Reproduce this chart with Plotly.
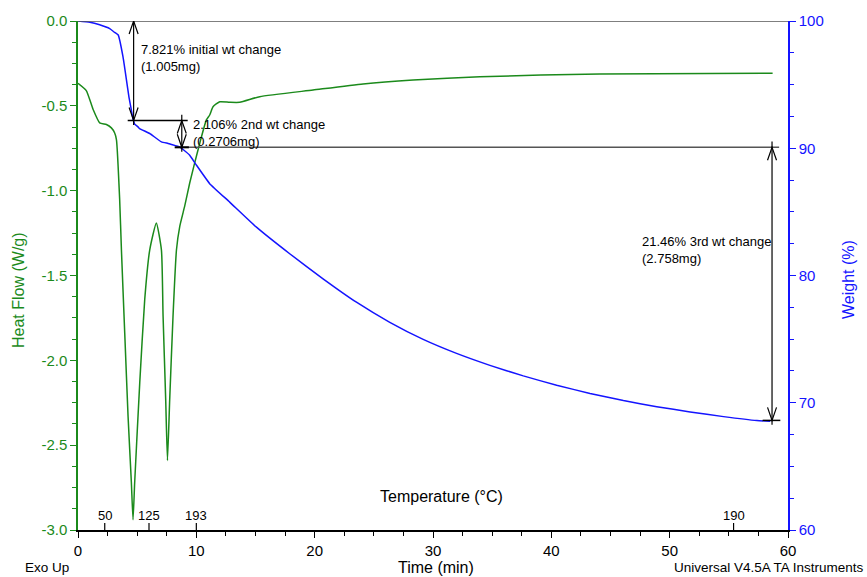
import plotly.graph_objects as go

# ---------------- data ----------------
time_hf = [0, 0.7, 1.27, 1.83, 2.4, 2.82, 3.1, 3.25, 3.52, 3.67, 3.95, 4.23, 4.51, 4.65,
           4.79, 5.22, 5.64, 6.06, 6.62, 7.05, 7.19, 7.41, 7.56, 7.75, 8.03, 8.32, 8.6,
           9.02, 9.44, 10.14, 10.85, 11.13, 11.41, 11.98, 12.82, 13.67, 15.36, 19.86,
           24.09, 28.32, 33.96, 44.1, 58.7]
heat_flow = [-0.367, -0.41, -0.52, -0.60, -0.61, -0.63, -0.66, -0.70, -1.05, -1.35, -1.84,
             -2.33, -2.72, -2.94, -2.72, -2.13, -1.64, -1.35, -1.19, -1.35, -1.74, -2.23,
             -2.59, -2.23, -1.74, -1.35, -1.21, -1.09, -0.955, -0.76, -0.583, -0.554,
             -0.505, -0.476, -0.479, -0.479, -0.446, -0.407, -0.371, -0.348, -0.328,
             -0.312, -0.308]

time_wt = [0, 1.0, 1.83, 2.68, 3.1, 3.4, 3.8, 4.09, 4.31, 4.51, 4.65, 4.79, 5.07, 5.2,
           6.06, 7.05, 7.61, 7.9, 8.6, 8.88, 9.44, 9.95, 11.13, 12.82, 15.08, 17.89,
           20.71, 23.53, 26.35, 29.17, 31.99, 34.81, 37.63, 40.45, 43.27, 46.09, 48.91,
           51.73, 54.55, 57.37, 58.5]
weight = [100, 99.9, 99.7, 99.4, 99.1, 98.9, 97.2, 95.4, 94.0, 93.0, 92.3, 91.9, 91.68,
          91.55, 91.16, 90.5, 90.38, 90.3, 90.1, 89.9, 89.45, 88.75, 87.22, 85.77, 83.80,
          81.71, 79.74, 77.90, 76.32, 74.98, 73.88, 72.94, 72.11, 71.38, 70.73, 70.17,
          69.69, 69.28, 68.91, 68.60, 68.55]

# weight-change steps
step_times = [4.7, 8.77, 58.65]
step_pct = [7.821, 2.106, 21.46]
step_mass = ["1.005mg", "0.2706mg", "2.758mg"]
step_names = ["initial", "2nd", "3rd"]

# temperature markers on time axis
temp_times = [2.26, 6.0, 10.0, 55.4]
temp_labels = ["50", "125", "193", "190"]

x_ticks = [0, 10, 20, 30, 40, 50, 60]
hf_ticks = [0.0, -0.5, -1.0, -1.5, -2.0, -2.5, -3.0]
wt_ticks = [60, 70, 80, 90, 100]

GREEN = "#1b8a1b"
BLUE = "#1414ff"
FONT = "Arial, Liberation Sans, sans-serif"

levels = [100.0]
for p in step_pct:
    levels.append(levels[-1] - p)

fig = go.Figure()
fig.add_trace(go.Scatter(x=time_hf, y=heat_flow, mode="lines", yaxis="y",
                         line=dict(color=GREEN, width=1.5, shape="spline", smoothing=0.5),
                         hoverinfo="skip", showlegend=False))
fig.add_trace(go.Scatter(x=time_wt, y=weight, mode="lines", yaxis="y2",
                         line=dict(color=BLUE, width=1.5, shape="spline", smoothing=0.4),
                         hoverinfo="skip", showlegend=False))

shapes = []
# reference level lines
shapes.append(dict(type="line", xref="x", yref="y2", x0=0, x1=60, y0=levels[0], y1=levels[0],
                   line=dict(color="#555555", width=1.5)))
shapes.append(dict(type="line", xref="x", yref="y2", x0=step_times[0] - 0.5, x1=step_times[1] + 0.5,
                   y0=levels[1], y1=levels[1], line=dict(color="black", width=1.5)))
shapes.append(dict(type="line", xref="x", yref="y2", x0=step_times[1] - 0.5, x1=step_times[2] + 0.6,
                   y0=levels[2], y1=levels[2], line=dict(color="#555555", width=1.5)))
shapes.append(dict(type="line", xref="x", yref="y2", x0=step_times[1] - 0.6, x1=step_times[1] + 0.6,
                   y0=levels[2], y1=levels[2], line=dict(color="black", width=2)))
shapes.append(dict(type="line", xref="x", yref="y2", x0=step_times[2] - 0.8, x1=step_times[2] + 0.7,
                   y0=levels[3], y1=levels[3], line=dict(color="black", width=1.5)))

for i, t in enumerate(step_times):
    top, bot = levels[i], levels[i + 1]
    shapes.append(dict(type="line", xref="x", yref="y2", x0=t, x1=t, y0=top + 0.45, y1=bot - 0.35,
                       line=dict(color="black", width=1.2)))
    shapes.append(dict(type="path", xref="x", yref="y2", xsizemode="pixel", ysizemode="pixel",
                       xanchor=t, yanchor=top, path="M -4.5,-13 L 0,0 L 4.5,-13",
                       line=dict(color="black", width=1.2)))
    shapes.append(dict(type="path", xref="x", yref="y2", xsizemode="pixel", ysizemode="pixel",
                       xanchor=t, yanchor=bot, path="M -4.5,13 L 0,0 L 4.5,13",
                       line=dict(color="black", width=1.2)))

# temperature ticks pointing up from the time axis
for t in temp_times:
    shapes.append(dict(type="line", xref="x", yref="paper", ysizemode="pixel", yanchor=0,
                       x0=t, x1=t, y0=0, y1=7, line=dict(color="black", width=1.2)))

label_pos = [(5.15, 97.1), (9.55, 91.18), (47.5, 81.97)]
annotations = []
for i in range(3):
    pct = f"{step_pct[i]:.3f}%" if step_pct[i] < 10 else f"{step_pct[i]:.2f}%"
    annotations.append(dict(x=label_pos[i][0], y=label_pos[i][1], xref="x", yref="y2",
                            xanchor="left", yanchor="middle", align="left", showarrow=False,
                            text=f"{pct} {step_names[i]} wt change<br>({step_mass[i]})",
                            font=dict(family=FONT, size=13, color="black")))
for t, lab in zip(temp_times, temp_labels):
    annotations.append(dict(x=t, y=0, xref="x", yref="paper", xanchor="center", yanchor="bottom",
                            yshift=5, showarrow=False, text=lab,
                            font=dict(family=FONT, size=13, color="black")))

L, R, T, B = 78, 79, 21, 47
W, H = 867, 577
pw, ph = W - L - R, H - T - B


def px(xp, yp, text, color="black", size=16, xanchor="center", angle=0):
    return dict(x=(xp - L) / pw, y=(H - yp - B) / ph, xref="paper", yref="paper", text=text,
                showarrow=False, xanchor=xanchor, yanchor="middle", textangle=angle,
                font=dict(family=FONT, size=size, color=color))


annotations += [
    px(441, 496, "Temperature (°C)"),
    px(436, 567, "Time (min)"),
    px(23, 567, "Exo Up", size=13.5, xanchor="left"),
    px(866, 567, "Universal V4.5A TA Instruments", size=13.5, xanchor="right"),
    px(18, 290, "Heat Flow (W/g)", color=GREEN, angle=-90),
    px(848, 280, "Weight (%)", color=BLUE, angle=-90),
]

fig.update_layout(
    width=W, height=H, margin=dict(l=L, r=R, t=T, b=B),
    plot_bgcolor="white", paper_bgcolor="white",
    font=dict(family=FONT),
    shapes=shapes, annotations=annotations,
    xaxis=dict(range=[0, 60], tickvals=x_ticks, ticktext=[str(v) for v in x_ticks],
               ticks="outside", ticklen=6, tickcolor="black", showline=True, linecolor="black",
               linewidth=1.5, showgrid=False, zeroline=False,
               tickfont=dict(family=FONT, size=15, color="black"),
               minor=dict(dtick=2.5, ticks="outside", ticklen=4, tickcolor="black")),
    yaxis=dict(range=[-3, 0], tickvals=hf_ticks, ticktext=[f"{v:.1f}" for v in hf_ticks],
               ticks="outside", ticklen=6, tickcolor=GREEN, showline=True, linecolor=GREEN,
               linewidth=1.5, showgrid=False, zeroline=False,
               tickfont=dict(family=FONT, size=15, color=GREEN),
               minor=dict(dtick=0.125, ticks="outside", ticklen=4, tickcolor=GREEN)),
    yaxis2=dict(range=[60, 100], overlaying="y", side="right", anchor="x",
                tickvals=wt_ticks, ticktext=[str(v) for v in wt_ticks],
                ticks="outside", ticklen=6, tickcolor=BLUE, showline=True, linecolor=BLUE,
                linewidth=1.5, showgrid=False, zeroline=False,
                tickfont=dict(family=FONT, size=15, color=BLUE),
                minor=dict(dtick=2.5, ticks="outside", ticklen=4, tickcolor=BLUE)),
)

fig.write_html("out.html")
